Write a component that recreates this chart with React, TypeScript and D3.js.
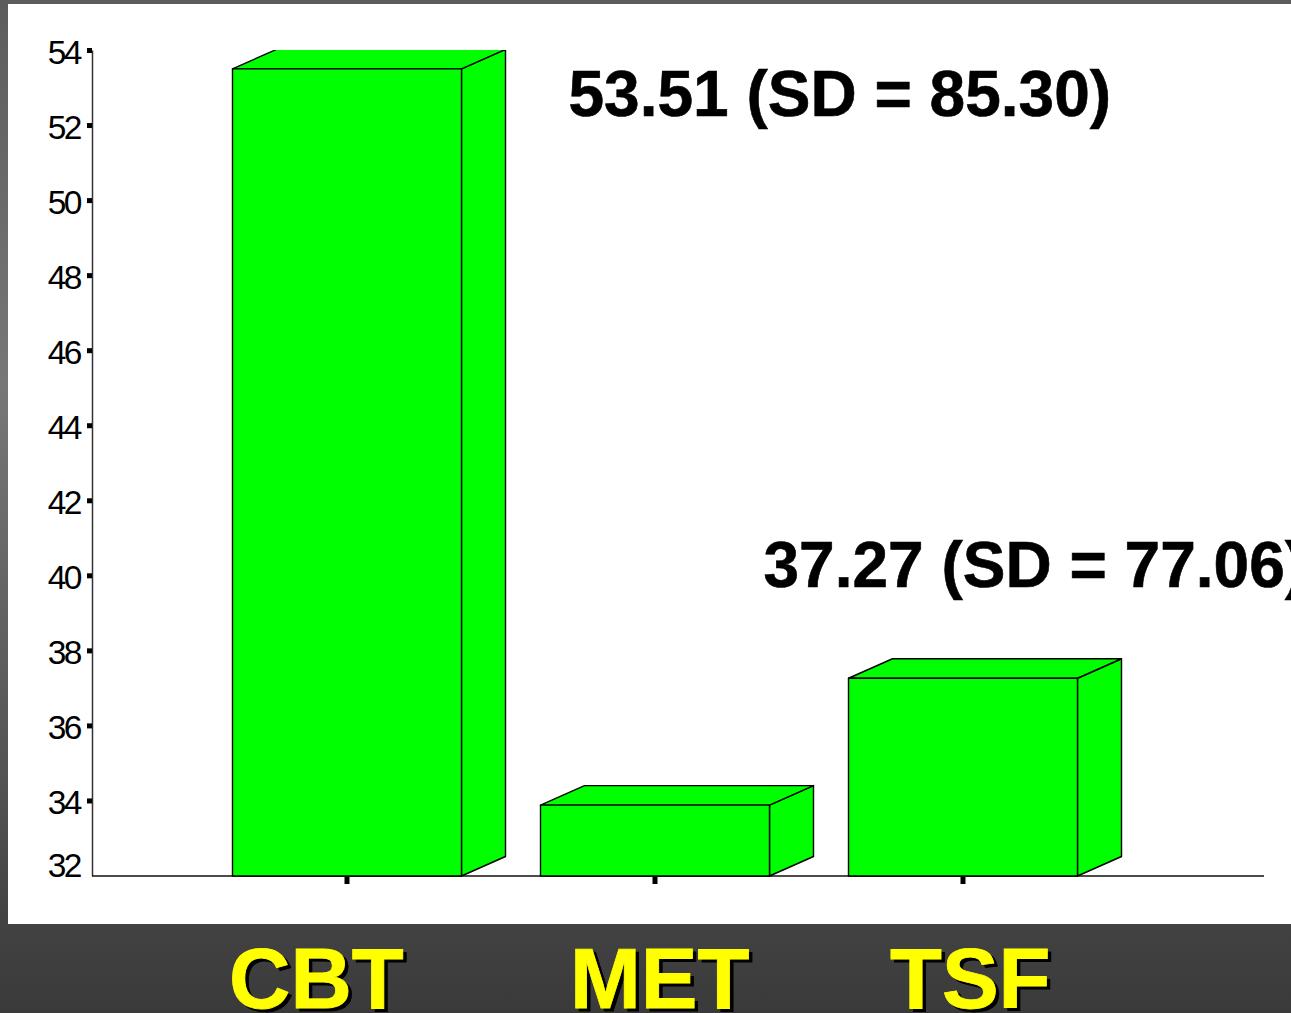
import React from "react";
import * as d3 from "d3";

const categories = ["CBT", "MET", "TSF"];
const values = [53.51, 33.89, 37.27];
const yTicks = [54, 52, 50, 48, 46, 44, 42, 40, 38, 36, 34, 32];
const annotations = [
  { text: "53.51 (SD = 85.30)", x: 568.5, y: 116 },
  { text: "37.27 (SD = 77.06)", x: 763.5, y: 587 },
];
const labelX = [229, 570, 890];

const W = 1291;
const H = 1013;
const FONT = "'Liberation Sans', Arial, sans-serif";
const GREEN = "#00ff00";

export default function App() {
  const y = d3.scaleLinear().domain([32, 54]).range([876, 50.5]);
  const x = d3.scaleBand<string>().domain(categories).range([193, 1117]);
  const barW = 229;
  const dx = 44;
  const dy = -19.5;
  const line = d3.line();
  const poly = (p: [number, number][]) => line(p) + "Z";

  return (
    <svg
      width={W}
      height={H}
      viewBox={`0 0 ${W} ${H}`}
      style={{ position: "fixed", left: 0, top: 0, display: "block" }}
    >
      <defs>
        <linearGradient id="strip" x1="0" y1="0" x2="0" y2="1">
          <stop offset="0" stopColor="#5c5c5c" />
          <stop offset="0.38" stopColor="#777777" />
          <stop offset="0.8" stopColor="#505050" />
          <stop offset="0.912" stopColor="#424242" />
          <stop offset="1" stopColor="#3a3a3a" />
        </linearGradient>
        <clipPath id="plotClip">
          <rect x={0} y={50} width={W} height={H} />
        </clipPath>
      </defs>
      <rect x={0} y={0} width={W} height={H} fill="url(#strip)" />
      <rect x={8} y={4} width={W - 8} height={920} fill="#ffffff" />

      {/* axes */}
      <line x1={92.5} x2={92.5} y1={y(54)} y2={y(32)} stroke="#333" strokeWidth={1.5} />
      <line x1={92} x2={1264} y1={y(32)} y2={y(32)} stroke="#111" strokeWidth={1.5} />
      {yTicks.map((t) => (
        <g key={t}>
          {t !== 32 && <rect x={87} y={y(t) - 2.5} width={5} height={5} fill="#000" />}
          <text
            x={79.5}
            y={t === 32 ? 877 : y(t) + 13}
            textAnchor="end"
            fontFamily={FONT}
            fontSize={33.5}
            letterSpacing={-2.8}
            fill="#000"
          >
            {t}
          </text>
        </g>
      ))}

      {/* bars */}
      <g clipPath="url(#plotClip)" stroke="#000" strokeWidth={1.4} strokeLinejoin="round">
        {categories.map((c, i) => {
          const bw = x.bandwidth();
          const l = (x(c) as number) + (bw - barW) / 2;
          const r = l + barW;
          const t = y(values[i]);
          const b = y(32);
          return (
            <g key={c} fill={GREEN}>
              <path d={poly([[r, t], [r + dx, t + dy], [r + dx, b + dy], [r, b]])} />
              <path d={poly([[l, t], [l + dx, t + dy], [r + dx, t + dy], [r, t]])} />
              <path d={poly([[l, t], [r, t], [r, b], [l, b]])} />
            </g>
          );
        })}
      </g>

      {/* category ticks */}
      {categories.map((c) => (
        <rect
          key={c}
          x={(x(c) as number) + x.bandwidth() / 2 - 2.5}
          y={877}
          width={5}
          height={7}
          fill="#000"
        />
      ))}

      {annotations.map((a) => (
        <text
          key={a.text}
          x={a.x}
          y={a.y}
          fontFamily={FONT}
          fontWeight="bold"
          fontSize={64}
          stroke="#000"
          strokeWidth={0.6}
          fill="#000"
        >
          {a.text}
        </text>
      ))}

      {categories.map((c, i) => (
        <g key={c} fontFamily={FONT} fontWeight="bold" fontSize={85}>
          <text x={labelX[i] + 3.5} y={1011} fill="#000" stroke="#000" strokeWidth={0.8}>
            {c}
          </text>
          <text x={labelX[i]} y={1007.5} fill="#ffff00" stroke="#ffff00" strokeWidth={0.8}>
            {c}
          </text>
        </g>
      ))}
    </svg>
  );
}
